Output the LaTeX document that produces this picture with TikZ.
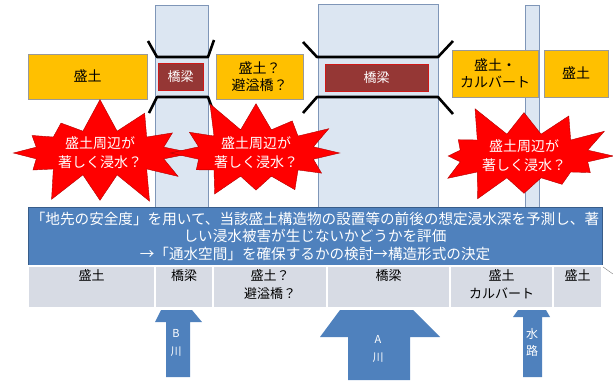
\documentclass[tikz,border=0pt]{standalone}
\usepackage{fontspec}
\setmainfont{Noto Sans CJK JP}
\usepackage{tikz}
\usetikzlibrary{shapes.symbols}
\definecolor{moriyellow}{HTML}{FFC000}
\definecolor{kyored}{HTML}{953735}
\definecolor{colfill}{HTML}{DCE6F2}
\definecolor{colline}{HTML}{7F96B8}
\definecolor{boxblue}{HTML}{4F81BD}
\definecolor{boxline}{HTML}{385D8A}
\definecolor{cellgray}{HTML}{D7DBE4}
\tikzstyle{column}=[draw=colline, fill=colfill, line width=1pt]
\tikzstyle{moribox}=[rectangle, draw=gray!80, fill=moriyellow, line width=0.8pt, align=center, font=\fontsize{14}{17}\selectfont]
\tikzstyle{kyobox}=[rectangle, draw=red!55!kyored, fill=kyored, text=white, line width=0.8pt, minimum height=27pt, font=\fontsize{13}{15}\selectfont]
\tikzstyle{deck}=[draw=black, line width=2.6pt, line join=round]
\tikzstyle{burst}=[starburst, starburst points=12, starburst point height=34pt, fill=red, draw=red!70!black, text=white, align=center, inner sep=0pt, font=\fontsize{14}{19}\selectfont]
\tikzstyle{cell}=[rectangle, fill=cellgray, draw=white, line width=1.5pt, minimum height=42pt]
\tikzstyle{celltext}=[anchor=north, align=center, inner sep=0pt, yshift=-4pt, font=\fontsize{13}{18}\selectfont]
\tikzstyle{riverarrow}=[fill=boxblue]
\tikzstyle{rivertext}=[text=white, align=center, font=\fontsize{11}{18}\selectfont]

\begin{document}
\begin{tikzpicture}[x=1pt, y=-1pt]
	\useasboundingbox (0,0) rectangle (613,383);
	\begin{scope}
		% river corridors
		\node (colB) at (181.5,106) [column, minimum width=53pt, minimum height=202pt] {};
		\node (colA) at (378,105.5) [column, minimum width=120pt, minimum height=203pt] {};
		\node (colW) at (532,106) [column, minimum width=14pt, minimum height=202pt] {};
	\end{scope}
	\begin{scope}
		\draw [deck] (148,41) -- (157,57) -- (208,57) -- (214,40);
		\draw [deck] (149,113) -- (157,97) -- (208,97) -- (214,113);
		\draw [deck] (303,42) -- (317,57) -- (438,57) -- (453,41);
		\draw [deck] (303,113) -- (317,97) -- (438,97) -- (453,114);
	\end{scope}
	\begin{scope}
		\node (moriL) at (87.5,76.5) [moribox, minimum width=119pt, minimum height=45pt] {盛土};
		\node (kyoB) at (180.5,76.5) [kyobox, minimum width=45pt] {橋梁};
		\node (moriQ) at (259.5,76.5) [moribox, minimum width=87pt, minimum height=45pt] {盛土？\\避溢橋？};
		\node (kyoA) at (376.5,77.5) [kyobox, minimum width=103pt] {橋梁};
		\node (moriC) at (495,73.5) [moribox, minimum width=86pt, minimum height=47pt] {盛土・\\カルバート};
		\node (moriR) at (576,73.5) [moribox, minimum width=64pt, minimum height=47pt] {盛土};
	\end{scope}
	\begin{scope}
		\node (burst1) at (100,153) [burst, minimum width=200pt, minimum height=112pt, random starburst=7] {盛土周辺が\\著しく浸水？};
		\node (burst2) at (256,153) [burst, minimum width=168pt, minimum height=116pt, random starburst=11] {盛土周辺が\\著しく浸水？};
		\node (burst3) at (524,156) [burst, minimum width=200pt, minimum height=112pt, random starburst=5] {盛土周辺が\\著しく浸水？};
	\end{scope}
	\begin{scope}
		\node (eval) at (315,236) [rectangle, draw=boxline, fill=boxblue, text=white, line width=0.8pt, minimum width=574pt, minimum height=58pt, align=center, inner sep=0pt, font=\fontsize{14.6}{17.5}\selectfont] {「地先の安全度」を用いて、当該盛土構造物の設置等の前後の想定浸水深を予測し、著\\しい浸水被害が生じないかどうかを評価\\→「通水空間」を確保するかの検討→構造形式の決定};
		\node (c1) at (91.5,287) [cell, minimum width=127pt] {};
		\node (c2) at (184,287) [cell, minimum width=58pt] {};
		\node (c3) at (270,287) [cell, minimum width=114pt] {};
		\node (c4) at (388.5,287) [cell, minimum width=123pt] {};
		\node (c5) at (501.5,287) [cell, minimum width=103pt] {};
		\node (c6) at (577.5,287) [cell, minimum width=49pt] {};
		\node (c1t) at (c1.north) [celltext] {盛土};
		\node (c2t) at (c2.north) [celltext] {橋梁};
		\node (c3t) at (c3.north) [celltext] {盛土？\\避溢橋？};
		\node (c4t) at (c4.north) [celltext] {橋梁};
		\node (c5t) at (c5.north) [celltext] {盛土\\カルバート};
		\node (c6t) at (c6.north) [celltext] {盛土};
		\coordinate (edgeA) at (603,267);
		\coordinate (edgeB) at (613,274);
		\draw [gray] (edgeA) -- (edgeB);
	\end{scope}
	\begin{scope}
		% rivers
		\fill [riverarrow] (166,377) -- (166,322) -- (155,322) -- (161,310) -- (192,310) -- (202,322) -- (190,322) -- (190,377) -- cycle;
		\fill [riverarrow] (348,380) -- (348,337) -- (320,337) -- (340,310) -- (413,310) -- (440,337) -- (410,337) -- (410,380) -- cycle;
		\fill [riverarrow] (523,377) -- (523,317) -- (513,317) -- (518,310) -- (546,310) -- (550,317) -- (542,317) -- (542,377) -- cycle;
		\node (riverB) at (176,343) [rivertext] {B\\川};
		\node (riverA) at (378,349) [rivertext] {A\\川};
		\node (suiro) at (532,342) [rivertext, font=\fontsize{12}{17}\selectfont] {水\\路};
	\end{scope}
\end{tikzpicture}
\end{document}
